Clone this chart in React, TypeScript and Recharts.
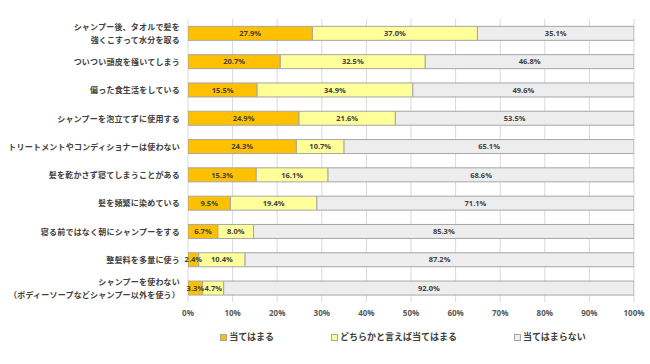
import { BarChart, Bar, XAxis, YAxis, CartesianGrid, Legend, LabelList } from 'recharts'

const categories = [
  'シャンプー後、タオルで髪を\n強くこすって水分を取る',
  'ついつい頭皮を掻いてしまう',
  '偏った食生活をしている',
  'シャンプーを泡立てずに使用する',
  'トリートメントやコンディショナーは使わない',
  '髪を乾かさず寝てしまうことがある',
  '髪を頻繁に染めている',
  '寝る前ではなく朝にシャンプーをする',
  '整髪料を多量に使う',
  'シャンプーを使わない\n（ボディーソープなどシャンプー以外を使う）',
]
const agree = [27.9, 20.7, 15.5, 24.9, 24.3, 15.3, 9.5, 6.7, 2.4, 3.3]
const somewhat = [37.0, 32.5, 34.9, 21.6, 10.7, 16.1, 19.4, 8.0, 10.4, 4.7]
const disagree = [35.1, 46.8, 49.6, 53.5, 65.1, 68.6, 71.1, 85.3, 87.2, 92.0]
const xTicks = [0, 10, 20, 30, 40, 50, 60, 70, 80, 90, 100]

const seriesNames = ['当てはまる', 'どちらかと言えば当てはまる', '当てはまらない']
const colors = ['#FFC000', '#FFFF99', '#EDEDED']

const data = categories.map((name, i) => ({
  name,
  agree: agree[i],
  somewhat: somewhat[i],
  disagree: disagree[i],
}))

const jpFont = '"Noto Sans CJK JP", "Noto Sans", sans-serif'

function CategoryTick({ x, y, payload }: any) {
  const lines = String(payload.value).split('\n')
  const step = 13.5
  const start = -((lines.length - 1) * step) / 2
  return (
    <text
      x={x}
      y={y}
      textAnchor="end"
      fill="#404040"
      fontSize={8}
      fontWeight={700}
      fontFamily={jpFont}
      letterSpacing={0.2}
    >
      {lines.map((l, i) => (
        <tspan key={i} x={x} y={y + start + i * step} dominantBaseline="central">
          {l}
        </tspan>
      ))}
    </text>
  )
}

function LegendContent() {
  return (
    <div
      style={{
        display: 'flex',
        justifyContent: 'center',
        gap: 57,
        paddingLeft: 172,
        fontFamily: jpFont,
        fontSize: 9,
        fontWeight: 700,
        color: '#404040',
        lineHeight: '14px',
      }}
    >
      {seriesNames.map((n, i) => (
        <span key={n} style={{ display: 'flex', alignItems: 'center' }}>
          <span
            style={{
              display: 'inline-block',
              width: 5,
              height: 5,
              background: colors[i],
              border: '1px solid #A6A6A6',
              marginRight: 2,
            }}
          />
          {n}
        </span>
      ))}
    </div>
  )
}

const fmt = (v: any) => `${Number(v).toFixed(1)}%`
const labelStyle = { fontSize: 7.5, fontWeight: 700, fill: '#404040', fontFamily: '"Open Sans", sans-serif' }

export default function App() {
  return (
    <div style={{ position: 'absolute', left: 0, top: 0, background: '#fff' }}>
      <BarChart
        width={650}
        height={364}
        data={data}
        layout="vertical"
        margin={{ top: 19, right: 16, bottom: 20, left: 0 }}
        barCategoryGap="26%"
      >
        <CartesianGrid horizontal={false} stroke="#D9D9D9" />
        <XAxis
          type="number"
          domain={[0, 100]}
          ticks={xTicks}
          allowDataOverflow
          tickFormatter={(v) => `${v}%`}
          axisLine={false}
          tickLine={false}
          height={28}
          interval={0}
          tick={{ fontSize: 8, fontWeight: 700, fill: '#595959', fontFamily: '"Open Sans", sans-serif' }}
        />
        <YAxis
          type="category"
          dataKey="name"
          width={188}
          axisLine={false}
          tickLine={false}
          interval={0}
          tick={<CategoryTick />}
        />
        <Legend verticalAlign="bottom" content={<LegendContent />} />
        <Bar dataKey="agree" stackId="a" fill={colors[0]} stroke="#A6A6A6" strokeWidth={1} isAnimationActive={false}>
          <LabelList dataKey="agree" position="center" formatter={fmt} style={labelStyle} />
        </Bar>
        <Bar dataKey="somewhat" stackId="a" fill={colors[1]} stroke="#A6A6A6" strokeWidth={1} isAnimationActive={false}>
          <LabelList dataKey="somewhat" position="center" formatter={fmt} style={labelStyle} />
        </Bar>
        <Bar dataKey="disagree" stackId="a" fill={colors[2]} stroke="#A6A6A6" strokeWidth={1} isAnimationActive={false}>
          <LabelList dataKey="disagree" position="center" formatter={fmt} style={labelStyle} />
        </Bar>
      </BarChart>
    </div>
  )
}
